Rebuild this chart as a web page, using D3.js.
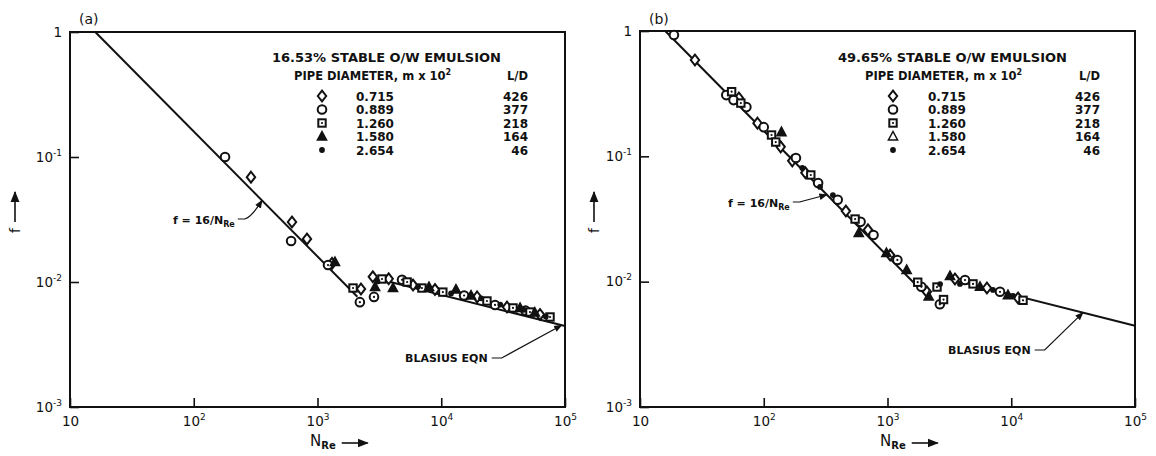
<!DOCTYPE html>
<html>
<head>
<meta charset="utf-8">
<script src="https://cdn.jsdelivr.net/npm/d3@7"></script>
<style>
  body { margin: 0; background: #fff; }
  svg { display: block; }
  text { font-family: "DejaVu Sans", sans-serif; fill: #111; }
</style>
</head>
<body>
<svg width="1156" height="456"></svg>
<script>
const svg = d3.select("svg");

// axis ticks
const xTicks = [10, 1e2, 1e3, 1e4, 1e5];
const yTicks = [1, 0.1, 0.01, 0.001];

// legend
const panelLabels = ["(a)", "(b)"];
const titles = ["16.53% STABLE O/W EMULSION", "49.65% STABLE O/W EMULSION"];
const shapes = ["diamond", "circle", "square", "triangle", "dot"];
const diameters = ["0.715", "0.889", "1.260", "1.580", "2.654"];
const ldRatios = ["426", "377", "218", "164", "46"];

// correlation lines: f = 16/Re (laminar), Blasius f = 0.079 Re^-0.25
const laminarRange = [16, 2100];
const blasiusRange = [3000, 1e5];

// panel (a) data  [N_Re, f]
const aDiamond = [[290, 0.069], [622, 0.0302], [822, 0.0221], [1310, 0.0141], [2246, 0.0088], [2800, 0.011],
  [3760, 0.0106], [5915, 0.00946], [8900, 0.0087], [19500, 0.0076], [34000, 0.0063], [62800, 0.0055]];
const aCircle = [[179, 0.1], [612, 0.0213], [1216, 0.01367], [2200, 0.0069], [2861, 0.0076], [4820, 0.0104],
  [15300, 0.0078], [27200, 0.00655], [48000, 0.0059]];
const aSquare = [[1937, 0.00895], [3320, 0.01057], [5300, 0.0100], [6980, 0.00895], [10300, 0.0083],
  [23400, 0.00705], [38000, 0.0062], [52100, 0.00575], [75700, 0.00525]];
const aTriangle = [[1384, 0.01445], [2920, 0.0091], [4075, 0.00895], [7960, 0.0091], [13150, 0.0087],
  [17400, 0.0078], [43300, 0.0062], [57000, 0.0057]];
const aDot = [[3050, 0.0101], [6500, 0.0092], [12000, 0.0081], [21000, 0.0074], [30000, 0.0066],
  [46000, 0.006], [70000, 0.0053]];

// panel (b) data  [N_Re, f]
const bDiamond = [[27.8, 0.587], [63, 0.292], [89, 0.184], [137, 0.119], [170, 0.092], [217, 0.0739],
  [461, 0.0366], [695, 0.0259], [1050, 0.0163], [2080, 0.0083], [3510, 0.0105], [6360, 0.0089], [11350, 0.0074]];
const bCircle = [[18.8, 0.93], [49.8, 0.308], [57, 0.281], [72.4, 0.247], [100, 0.171], [182, 0.097],
  [275, 0.0612], [396, 0.045], [606, 0.030], [771, 0.0236], [1202, 0.0149], [1878, 0.0091], [2649, 0.0066],
  [4230, 0.0103], [8110, 0.0083]];
const bSquare = [[55, 0.328], [65.3, 0.266], [115.6, 0.148], [125, 0.13], [240, 0.071], [547, 0.0316],
  [1754, 0.0099], [2837, 0.0072], [2512, 0.00906], [4910, 0.0096], [12450, 0.0071]];
const bTriangle = [[139, 0.156], [586, 0.0244], [980, 0.0169], [1427, 0.0124], [2152, 0.0076], [3200, 0.0111],
  [5590, 0.0091], [9410, 0.0078]];
const bDot = [[205, 0.0807], [285, 0.057], [362, 0.0491], [2660, 0.00957], [3850, 0.0096], [7120, 0.0086],
  [10340, 0.0077]];

const panels = [
  { left: 70, right: 565, top: 32, bottom: 407, series: [aDiamond, aCircle, aSquare, aTriangle, aDot],
    legTitleX: 272, legHeadX: 294, legSymX: 322, legValX: 356, legLdX: 528, openTriangle: false,
    lamNote: { x: 173, y: 224, re: 356 }, blaNote: { x: 405, y: 362, re: 94000 },
    fX: 15, nX: 310 },
  { left: 640, right: 1135, top: 31, bottom: 407, series: [bDiamond, bCircle, bSquare, bTriangle, bDot],
    legTitleX: 838, legHeadX: 865, legSymX: 893, legValX: 928, legLdX: 1100, openTriangle: true,
    lamNote: { x: 728, y: 207, re: 324 }, blaNote: { x: 948, y: 354, re: 38000 },
    fX: 594, nX: 880 }
];

const defs = svg.append("defs");
defs.append("marker")
  .attr("id", "arr")
  .attr("viewBox", "0 0 10 10")
  .attr("refX", 9).attr("refY", 5)
  .attr("markerWidth", 7).attr("markerHeight", 7)
  .attr("orient", "auto")
  .append("path").attr("d", "M0,1 L10,5 L0,9 Z").attr("fill", "#111");

function drawShape(g, shape, x, y, opts) {
  const sw = 2;
  if (shape === "diamond") {
    g.append("path")
      .attr("d", `M${x},${y - 5.4} L${x + 4.2},${y} L${x},${y + 5.4} L${x - 4.2},${y} Z`)
      .attr("fill", "#fff").attr("stroke", "#111").attr("stroke-width", sw);
  } else if (shape === "circle") {
    g.append("circle").attr("cx", x).attr("cy", y).attr("r", 4.3)
      .attr("fill", "#fff").attr("stroke", "#111").attr("stroke-width", sw);
    if (opts.dotted) g.append("circle").attr("cx", x).attr("cy", y).attr("r", 1.1).attr("fill", "#111");
  } else if (shape === "square") {
    g.append("rect").attr("x", x - 3.7).attr("y", y - 3.7).attr("width", 7.4).attr("height", 7.4)
      .attr("fill", "#fff").attr("stroke", "#111").attr("stroke-width", sw);
    g.append("circle").attr("cx", x).attr("cy", y).attr("r", 1.1).attr("fill", "#111");
  } else if (shape === "triangle") {
    g.append("path")
      .attr("d", `M${x},${y - 5} L${x + 4.6},${y + 3.5} L${x - 4.6},${y + 3.5} Z`)
      .attr("fill", opts.open ? "#fff" : "#111").attr("stroke", "#111").attr("stroke-width", 1.5);
  } else {
    g.append("circle").attr("cx", x).attr("cy", y).attr("r", 2.9).attr("fill", "#111");
  }
}

function addPower(sel, exp) {
  sel.text(null);
  sel.append("tspan").text("10");
  sel.append("tspan").attr("dy", -6).attr("font-size", 9).text(exp);
}

panels.forEach((p, i) => {
  const x = d3.scaleLog().domain([10, 1e5]).range([p.left, p.right]);
  const y = d3.scaleLog().domain([0.001, 1]).range([p.bottom, p.top]);
  const g = svg.append("g");

  // axes
  const xAxis = g.append("g")
    .attr("transform", `translate(0,${p.bottom})`)
    .call(d3.axisBottom(x).tickValues(xTicks).tickSizeInner(-9).tickSizeOuter(0).tickPadding(9));
  xAxis.select(".domain").remove();
  xAxis.selectAll("line").attr("stroke", "#111").attr("stroke-width", 1.6);
  xAxis.selectAll("text")
    .attr("font-size", 13.5).attr("fill", "#111").attr("font-family", "DejaVu Sans")
    .each(function (d) {
      const t = d3.select(this);
      if (d === 10) t.text("10");
      else addPower(t, String(Math.round(Math.log10(d))));
    });

  const yAxis = g.append("g")
    .attr("transform", `translate(${p.left},0)`)
    .call(d3.axisLeft(y).tickValues(yTicks).tickSizeInner(-9).tickSizeOuter(0).tickPadding(8));
  yAxis.select(".domain").remove();
  yAxis.selectAll("line").attr("stroke", "#111").attr("stroke-width", 1.6);
  yAxis.selectAll("text")
    .attr("font-size", 13.5).attr("fill", "#111").attr("font-family", "DejaVu Sans")
    .each(function (d) {
      const t = d3.select(this);
      if (d === 1) t.text("1");
      else addPower(t, "-" + Math.round(-Math.log10(d)));
    });

  // frame
  g.append("rect")
    .attr("x", p.left).attr("y", p.top)
    .attr("width", p.right - p.left).attr("height", p.bottom - p.top)
    .attr("fill", "none").attr("stroke", "#111").attr("stroke-width", 2);

  // correlation lines
  const line = d3.line().x(d => x(d[0])).y(d => y(d[1]));
  g.append("path")
    .attr("d", line(laminarRange.map(r => [r, 16 / r])))
    .attr("fill", "none").attr("stroke", "#111").attr("stroke-width", 2);
  g.append("path")
    .attr("d", line(blasiusRange.map(r => [r, 0.079 * Math.pow(r, -0.25)])))
    .attr("fill", "none").attr("stroke", "#111").attr("stroke-width", 2);

  // data points
  p.series.forEach((pts, si) => {
    pts.forEach(d => {
      drawShape(g, shapes[si], x(d[0]), y(d[1]), { dotted: d[0] >= 1000, open: false });
    });
  });

  // panel label
  g.append("text").attr("x", p.left + 9).attr("y", 24).attr("font-size", 14).text(panelLabels[i]);

  // legend
  g.append("text").attr("x", p.legTitleX).attr("y", 62)
    .attr("font-size", 13).attr("font-weight", "bold").text(titles[i]);
  const head = g.append("text").attr("x", p.legHeadX).attr("y", 80)
    .attr("font-size", 11.5).attr("font-weight", "bold");
  head.append("tspan").text("PIPE DIAMETER, m x 10");
  head.append("tspan").attr("dy", -5).attr("font-size", 8).text("2");
  g.append("text").attr("x", p.legLdX).attr("y", 80).attr("text-anchor", "end")
    .attr("font-size", 11.5).attr("font-weight", "bold").text("L/D");
  shapes.forEach((s, k) => {
    const ry = 96 + k * 13.5;
    drawShape(g, s, p.legSymX, ry, { dotted: false, open: p.openTriangle });
    g.append("text").attr("x", p.legValX).attr("y", ry + 4.5)
      .attr("font-size", 12).attr("font-weight", "bold").text(diameters[k]);
    g.append("text").attr("x", p.legLdX).attr("y", ry + 4.5).attr("text-anchor", "end")
      .attr("font-size", 12).attr("font-weight", "bold").text(ldRatios[k]);
  });

  // annotation f = 16/N_Re
  const ln = p.lamNote;
  const lt = g.append("text").attr("x", ln.x).attr("y", ln.y)
    .attr("font-size", 11).attr("font-weight", "bold");
  lt.append("tspan").text("f = 16/N");
  lt.append("tspan").attr("dy", 3).attr("font-size", 8).text("Re");
  const lw = lt.node().getComputedTextLength();
  const lx0 = ln.x + lw + 3, ly0 = ln.y - 5;
  const ltx = x(ln.re), lty = y(16 / ln.re);
  g.append("path")
    .attr("d", `M${lx0},${ly0} L${lx0 + 7},${ly0} Q${lx0 + 14},${ly0 - 2} ${ltx},${lty}`)
    .attr("fill", "none").attr("stroke", "#111").attr("stroke-width", 1.2)
    .attr("marker-end", "url(#arr)");

  // annotation Blasius
  const bn = p.blaNote;
  const bt = g.append("text").attr("x", bn.x).attr("y", bn.y)
    .attr("font-size", 11).attr("font-weight", "bold").text("BLASIUS EQN");
  const bw = bt.node().getComputedTextLength();
  const bx0 = bn.x + bw + 4, by0 = bn.y - 4;
  const btx = x(bn.re), bty = y(0.079 * Math.pow(bn.re, -0.25));
  g.append("path")
    .attr("d", `M${bx0},${by0} L${bx0 + 10},${by0} L${btx},${bty}`)
    .attr("fill", "none").attr("stroke", "#111").attr("stroke-width", 1.2)
    .attr("marker-end", "url(#arr)");

  // axis titles
  const nt = g.append("text").attr("x", p.nX).attr("y", 446).attr("font-size", 15);
  nt.append("tspan").text("N");
  nt.append("tspan").attr("dy", 3).attr("font-size", 10).attr("font-weight", "bold").text("Re");
  const nw = nt.node().getComputedTextLength();
  g.append("line")
    .attr("x1", p.nX + nw + 6).attr("x2", p.nX + nw + 32)
    .attr("y1", 443).attr("y2", 443)
    .attr("stroke", "#111").attr("stroke-width", 1.6).attr("marker-end", "url(#arr)");

  g.append("text")
    .attr("transform", `translate(${p.fX + 5},${233}) rotate(-90)`)
    .attr("font-size", 14).text("f");
  g.append("line")
    .attr("x1", p.fX).attr("x2", p.fX)
    .attr("y1", 222).attr("y2", 192)
    .attr("stroke", "#111").attr("stroke-width", 1.6).attr("marker-end", "url(#arr)");
});
</script>
</body>
</html>
